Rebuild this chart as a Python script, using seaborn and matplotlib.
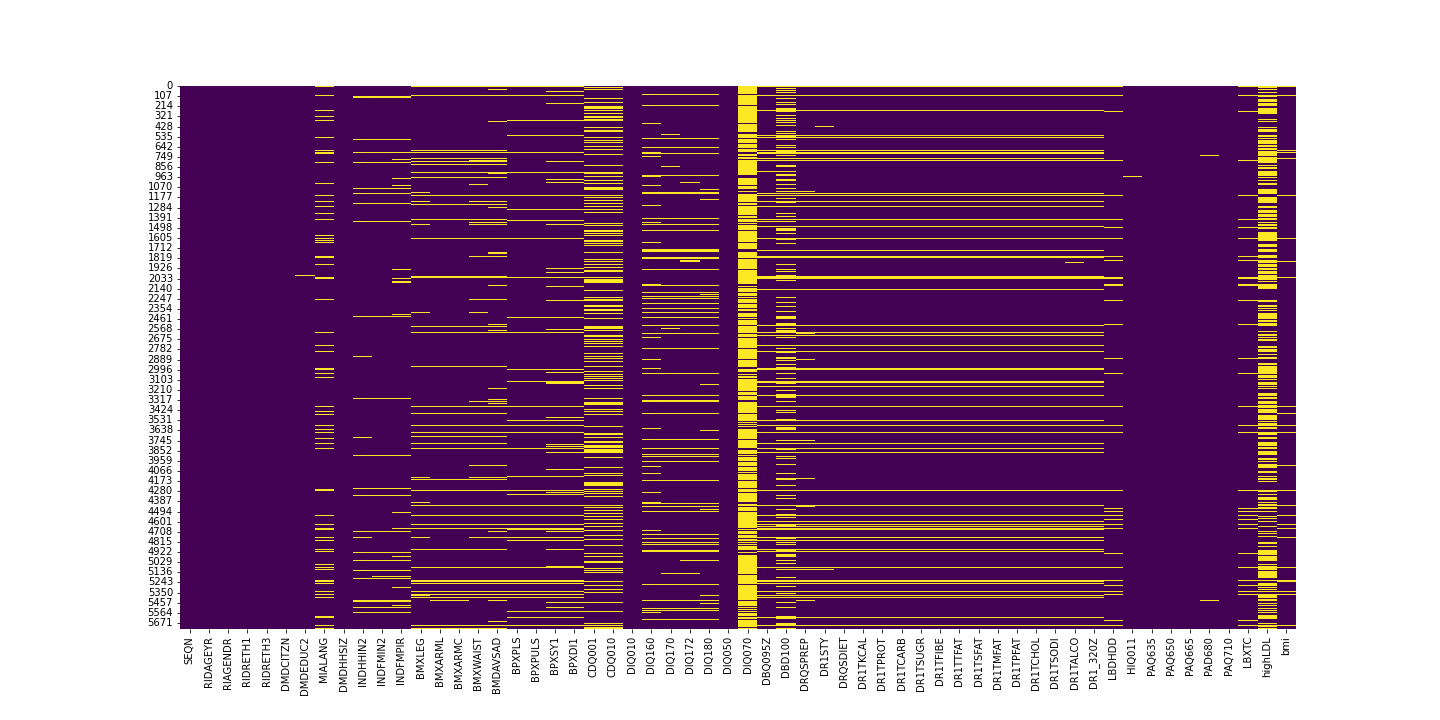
import pandas as pd
import matplotlib
matplotlib.use("Agg")
import matplotlib.pyplot as plt
import seaborn as sns

n_rows = 5735
# one row is far below a pixel at this height, so widen a marked row to about one pixel
line_rows = 5
columns = ["SEQN", "RIDAGEYR", "RIAGENDR", "RIDRETH1", "RIDRETH3", "DMDCITZN", "DMDEDUC2", "MIALANG",
           "DMDHHSIZ", "INDHHIN2", "INDFMIN2", "INDFMPIR", "BMXLEG", "BMXARML", "BMXARMC", "BMXWAIST",
           "BMDAVSAD", "BPXPLS", "BPXPULS", "BPXSY1", "BPXDI1", "CDQ001", "CDQ010", "DIQ010", "DIQ160",
           "DIQ170", "DIQ172", "DIQ180", "DIQ050", "DIQ070", "DBQ095Z", "DBD100", "DRQSPREP", "DR1STY",
           "DRQSDIET", "DR1TKCAL", "DR1TPROT", "DR1TCARB", "DR1TSUGR", "DR1TFIBE", "DR1TTFAT", "DR1TSFAT",
           "DR1TMFAT", "DR1TPFAT", "DR1TCHOL", "DR1TSODI", "DR1TALCO", "DR1_320Z", "LBDHDD", "HIQ011",
           "PAQ635", "PAQ650", "PAQ665", "PAD680", "PAQ710", "LBXTC", "highLDL", "bmi"]

# missing rows per variable group. a tuple is a run of rows
mialang_rows = [(0, 8), 99, 257, 320, 363, 542, 680, (701, 711), 806, 1028, 1155, 1218, 1271, 1345, 1408, 1577,
                1609, 1630, 1651, (1799, 1810), 1883, (2020, 2034), 2253, 2601, 2739, 2802, (2981, 2992), 3034,
                3076, 3383, 3436, 3467, 3583, 3626, 3657, 3721, 3773, 3826, (4259, 4270), 4534, 4629, 4671, 4682,
                4766, 4798, 4893, 4914, 5051, 5083, 5104, (5220, 5231), 5252, 5336, 5368, 5400, (5600, 5611),
                5695, (5727, 5734)]
dmdeduc2_rows = [2006]

income_rows = [(109, 120), 563, 701, 806, 1081, 1134, 1239, 1429, 2432, 3298, 3900, 4249, 4322, 4703, 4924, 5009,
               5115, 5199, (5431, 5442), 5505, 5558]
indhhin2_rows = [2855, 3710, 4766]
indfmin2_rows = [5178]
indfmpir_rows = [775, 975, 1049, 1936, 2031, (2063, 2077), 2411, 4502, 4671, 4967, 5178, 5294, 5484]

bmx_rows = [(0, 8), 99, 680, 701, 764, 796, 827, 912, 964, 1155, 1250, 1408, 1609, (2010, 2020), 2538, 2601, 2960,
            3383, 3457, 3583, 3657, 3700, 3773, 3826, 4154, 4270, 4428, 4534, 4629, 4671, 4893, 5083, (5220, 5231),
            5252, 5336, 5368, 5400, 5695, 5727]
bmxleg_rows = [1123, 1218, 1461, 2390, 4132, 4396, 4766, (5372, 5385)]
bmxarm_rows = [5431]
bmxwaist_rows = [1039, 2390]
waist_avsad_rows = [(785, 796), 1218, 1440, 1461, 1799, 2253, 3330, 4006, 4132, 4766]
bmdavsad_rows = [35, 373, (912, 922), 1281, (1757, 1767), 2105, 2517, 2580, 3192, 3309, 3351, 4703, 5431, 5653]

bp_rows = [(0, 8), 99, 363, 521, 701, 912, 1155, 1303, 1419, 1609, 2020, 2443, 2601, 2992, 3119, 3383, 3530, 3583,
           3657, 3826, 4122, 4270, 4312, 4428, 4534, 4629, (4671, 4682), 4766, 4798, 5083, (5220, 5231), 5252, 5336,
           5368, 5400, 5547, 5611, 5695]
bpxsy_di_rows = [56, 183, 796, 986, 1018, 1461, 1925, 1968, 2116, 2263, 2570, 3024, (3134, 3146), 3499, 3784, 3805,
                 3868, 4048, 4291, 4703, 4893, (5072, 5083), 5452, 5505]

cdq_rows = [14, 35, 130, 173, (215, 247), 257, 289, (320, 342), (352, 373), 437, (468, 490), 542, 574, 595, 637,
            669, 722, 838, (912, 933), 954, 996, 1028, (1070, 1102), 1155, 1176, 1208, (1239, 1250), (1271, 1281),
            (1303, 1313), 1334, 1451, (1472, 1482), (1525, 1546), 1556, 1577, (1630, 1651), 1662, 1683, (1757, 1767),
            1831, 1851, 1883, 1915, (1947, 1968), 2020, (2041, 2084), 2158, 2232, (2253, 2274), (2316, 2337),
            (2358, 2379), 2401, 2453, (2538, 2570), 2580, (2633, 2654), 2675, 2696, 2717, 2749, 2823, 2855, 2876,
            2908, 2960, 3013, 3045, 3066, 3087, (3108, 3119), 3161, 3192, 3298, (3340, 3372), 3414, 3436,
            (3467, 3478), (3594, 3605), (3668, 3689), 3710, (3752, 3773), 3794, (3805, 3826), (3837, 3879), 3921,
            4027, 4090, 4111, (4182, 4224), 4259, 4280, 4301, (4333, 4344), 4428, (4449, 4459), 4481, 4513, 4544,
            (4576, 4587), 4618, 4650, 4692, (4745, 4756), (4787, 4798), 4851, 4935, 4967, (5019, 5041), 5093, 5115,
            (5136, 5146), 5231, 5273, 5315, 5347, 5452, 5547, 5674, (5695, 5706), (5717, 5734)]

diq_rows = [88, 204, 553, 648, 711, 944, (1123, 1134), 1398, 1461, 1525, (1725, 1746), (1810, 1820), 1936, 2105, 2179,
            2221, 2242, 2295, 2348, 2390, 2443, 2527, 2612, 2770, 3034, (3319, 3330), 3267, 3457, 3731, 3826, 3890,
            3911, 3963, 4164, 4407, 4439, 4491, 4734, 4777, 4819, 4840, (4903, 4914), 5262, 5431, 5516, 5537, 5632]
diq160_rows = [394, (701, 711), 743, 954, 1049, 1260, 1440, 1651, (2094, 2105), 2654, 2886, 2981, 3615, 4016, 4090,
               4291, (4396, 4407), 4692, 5558]
diq170_rows = [511, 849, 2559, 5146]
diq172_rows = [1018, (1841, 1855), 5009, 5146]
diq180_rows = [1091, 1197, 2200, 3150, 3636, 4470, 5009, 5378, 5463]

# DIQ070 is mostly missing, these are the rows that hold a value
diq070_observed = [(85, 99), (201, 208), (387, 401), (482, 493), (500, 511), (549, 560), (606, 616), (655, 666),
                   (697, 718), (739, 753), (774, 785), (940, 968), (1049, 1060), (1091, 1105), (1123, 1141),
                   (1229, 1239), (1260, 1271), (1359, 1369), (1398, 1405), (1440, 1451), (1461, 1472), (1521, 1535),
                   (1648, 1662), (1722, 1750), (1813, 1824), (1932, 1943), (2091, 2112), (2122, 2133), (2175, 2186),
                   (2218, 2225), (2235, 2246), (2295, 2302), (2348, 2358), (2376, 2397), (2439, 2450), (2460, 2471),
                   (2524, 2534), (2608, 2619), (2650, 2661), (2766, 2777), (2883, 2893), (2971, 2985), (3020, 3041),
                   (3052, 3062), (3083, 3094), (3221, 3231), (3263, 3274), (3316, 3337), (3453, 3463), (3537, 3548),
                   (3558, 3565), (3579, 3586), (3601, 3622), (3727, 3738), (3826, 3840), (3886, 3897), (3911, 3921),
                   (3960, 3971), (4013, 4023), (4066, 4073), (4087, 4097), (4161, 4171), (4249, 4259), (4291, 4301),
                   (4393, 4414), (4435, 4446), (4491, 4502), (4671, 4682), (4692, 4703), (4734, 4745), (4777, 4787),
                   (4808, 4819), (4829, 4840), (4851, 4861), (4903, 4924), (4935, 4953), (5157, 5167), (5262, 5273),
                   (5431, 5442), (5495, 5505), (5516, 5526), (5537, 5547), (5558, 5569), (5600, 5611), (5632, 5642),
                   (5717, 5727)]

dbd100_rows = [25, 46, 67, 99, 130, 173, 194, (236, 278), 310, 342, 363, (384, 394), 415, 479, 500, (521, 553), 563,
               627, 648, (690, 711), 732, (838, 859), 901, (933, 954), (986, 1007), 1039, 1081, 1113, 1186,
               (1218, 1239), 1271, 1345, (1377, 1387), 1429, (1503, 1535), 1556, 1620, 1662, 1736, (1799, 1820), 1883,
               1936, (1957, 1968), (1999, 2010), 2052, 2232, 2284, 2326, 2379, (2432, 2457), (2506, 2527), 2559,
               (2580, 2612), (2654, 2665), 2739, 2770, (2812, 2823), (2865, 2886), 2897, 2939, (2971, 3002), 3034, 3087,
               (3119, 3150), 3214, (3256, 3298), (3330, 3340), (3383, 3393), 3425, (3446, 3457), (3520, 3541),
               (3604, 3636), 3741, (3773, 3784), 3826, (3826, 3847), 3911, (3932, 3942), 3995, 4090, (4143, 4164), 4217,
               4322, 4354, 4428, 4470, 4523, 4555, 4640, 4777, 4819, 4840, 4903, (4946, 4977), 5009, (5041, 5051),
               (5104, 5115), 5188, 5284, 5357, (5452, 5463), 5505, (5600, 5632), (5674, 5695), (5727, 5734)]

diet_rows = [(0, 8), 99, 257, 521, 542, 680, (701, 711), 764, 785, 1134, 1155, 1218, 1271, 1408, 1482, 1609, 1736,
             (1799, 1810), (2010, 2031), 2147, 2527, 2601, 2633, 2739, 2802, (2981, 2992), (3119, 3129), 3171, 3267,
             3383, 3530, 3583, 3657, 3773, 3826, 3868, 4270, 4428, 4534, 4597, 4629, 4650, (4671, 4682), 4766, 4798,
             4893, 4914, 5083, (5222, 5236), 5257, 5336, 5378, 5400, 5611, 5695]
dbq095z_rows = [901, 1429]
drqsprep_rows = [1113, 2612, 2886, 3741, 4143, 4439, 5104, 5431]
dr1sty_rows = [426, 5104]
dr1talco_rows = [1862]

lab_rows = [(0, 8), 99, 268, 785, 1155, 1408, 1493, 1609, 1799, 1841, (2020, 2031), (2094, 2105), 2263, 2517, 2876,
            3034, 3383, 3583, 3657, 4270, 4460, 4491, 4534, 4576, 4629, 4671, 4935, 5083, 5220, 5273, 5336, 5368,
            5642, 5695]
hiq011_rows = [954]
pad680_rows = [732, 5431]

highldl_rows = [(0, 21), 35, 67, (92, 113), (137, 166), (180, 211), (232, 296), 352, 373, 437, (458, 486), (518, 542),
                553, (570, 613), (627, 648), (659, 680), (690, 739), (753, 817), 838, (859, 877), (898, 951), 964, 996,
                (1025, 1046), (1088, 1120), 1130, (1172, 1236), (1267, 1292), (1313, 1341), (1356, 1387), (1398, 1419),
                1440, 1468, (1489, 1510), (1542, 1637), (1665, 1700), (1722, 1753), (1785, 1817), (1838, 1870),
                (1879, 1911), (1925, 1943), (1953, 1985), (1995, 2048), 2062, (2091, 2143), (2259, 2284), (2312, 2333),
                2348, 2369, (2397, 2460), (2471, 2492), (2499, 2534), 2597, (2618, 2640), 2654, (2671, 2692),
                (2745, 2766), (2780, 2809), 2833, (2861, 2883), (2925, 2946), (2957, 3041), (3052, 3083), 3097,
                (3125, 3157), 3171, 3199, (3242, 3274), (3287, 3305), (3326, 3358), (3368, 3400), (3410, 3453),
                (3474, 3527), 3541, (3558, 3590), (3604, 3622), (3653, 3685), (3706, 3727), (3759, 3801), (3812, 3833),
                (3854, 3897), 3939, 3963, (3992, 4023), 4034, (4066, 4087), 4122, (4139, 4161), 4175, (4270, 4291), 4312,
                (4340, 4372), 4396, 4425, (4446, 4467), 4491, 4551, 4572, 4597, 4650, 4703, 4724, 4756, (4819, 4840),
                4861, (4903, 4953), (4963, 5016), 5051, (5072, 5111), (5125, 5199), 5220, (5252, 5284), 5294, 5315,
                5336, (5368, 5407), (5421, 5442), 5463, 5484, 5516, 5537, 5558, (5590, 5632), 5674, (5695, 5717), 5734]
bmi_rows = [(0, 8), 99, 680, 701, 764, 1155, 1609, 1851, 2020, 3383, 3457, 3583, 3657, 4006, 4270, 4428, 4534, 4629,
            4671, 4766, 5083, (5220, 5231), 5336, 5368, 5695]


def to_index(rows, band_pad=line_rows):
    out = []
    for r in rows:
        if isinstance(r, tuple):
            a, b = r[0] - band_pad, r[1] + band_pad
        else:
            a, b = r - line_rows, r + line_rows
        out.extend(range(max(a, 0), min(b, n_rows - 1) + 1))
    return out


df = pd.DataFrame(False, index=range(n_rows), columns=columns)


def mark(first, last, rows, band_pad=line_rows):
    df.loc[to_index(rows, band_pad), first:last] = True


mark("MIALANG", "MIALANG", mialang_rows)
mark("DMDEDUC2", "DMDEDUC2", dmdeduc2_rows)
mark("INDHHIN2", "INDFMPIR", income_rows)
mark("INDHHIN2", "INDHHIN2", indhhin2_rows)
mark("INDFMIN2", "INDFMIN2", indfmin2_rows)
mark("INDFMPIR", "INDFMPIR", indfmpir_rows)
mark("BMXLEG", "BMDAVSAD", bmx_rows)
mark("BMXLEG", "BMXLEG", bmxleg_rows)
mark("BMXARML", "BMXARMC", bmxarm_rows)
mark("BMXWAIST", "BMXWAIST", bmxwaist_rows)
mark("BMXWAIST", "BMDAVSAD", waist_avsad_rows)
mark("BMDAVSAD", "BMDAVSAD", bmdavsad_rows)
mark("BPXPLS", "BPXDI1", bp_rows)
mark("BPXSY1", "BPXDI1", bpxsy_di_rows)
mark("CDQ001", "CDQ010", cdq_rows, band_pad=0)
mark("DIQ160", "DIQ180", diq_rows)
mark("DIQ160", "DIQ160", diq160_rows)
mark("DIQ170", "DIQ170", diq170_rows)
mark("DIQ172", "DIQ172", diq172_rows)
mark("DIQ180", "DIQ180", diq180_rows)
df["DIQ070"] = True
mark("DBQ095Z", "DR1_320Z", diet_rows)
df.loc[to_index(diq070_observed, 0), "DIQ070"] = False
mark("DBD100", "DBD100", dbd100_rows, band_pad=0)
mark("DBQ095Z", "DBQ095Z", dbq095z_rows)
mark("DRQSPREP", "DRQSPREP", drqsprep_rows)
mark("DR1STY", "DR1STY", dr1sty_rows)
mark("DR1TALCO", "DR1TALCO", dr1talco_rows)
mark("LBDHDD", "LBDHDD", lab_rows)
mark("LBXTC", "LBXTC", lab_rows)
mark("HIQ011", "HIQ011", hiq011_rows)
mark("PAD680", "PAD680", pad680_rows)
mark("highLDL", "highLDL", highldl_rows, band_pad=0)
mark("bmi", "bmi", bmi_rows)

fig = plt.figure(figsize=(20, 10), dpi=72)
ax = fig.add_axes([0.125, 0.1264, 0.775, 0.7542])
sns.heatmap(df, cmap="viridis", cbar=False, yticklabels=107, ax=ax)
plt.savefig("out.png")
